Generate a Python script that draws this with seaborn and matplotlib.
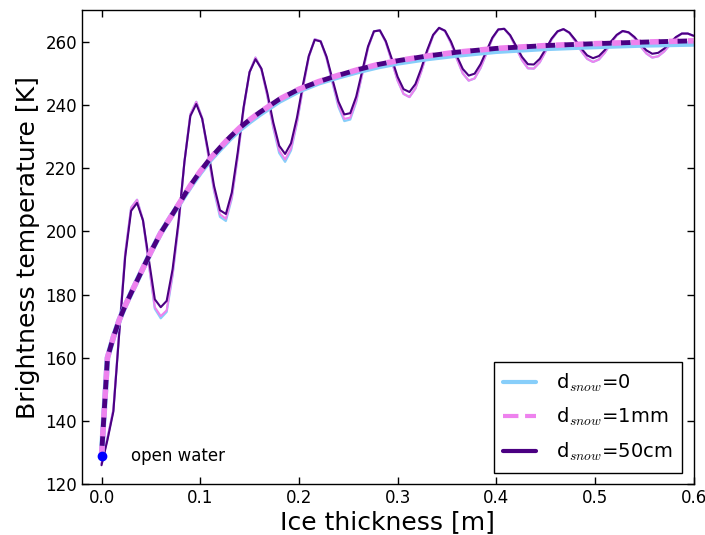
import numpy as np
import matplotlib
matplotlib.use('Agg')
import matplotlib.pyplot as plt
import seaborn as sns
from matplotlib.lines import Line2D

sns.set_style('ticks')
plt.rcParams['font.family'] = ['DejaVu Sans']
plt.rcParams['mathtext.fontset'] = 'cm'
plt.rcParams['text.color'] = 'black'
plt.rcParams['axes.labelcolor'] = 'black'
plt.rcParams['xtick.color'] = 'black'
plt.rcParams['ytick.color'] = 'black'

# ice thickness grid of the coherent model [m]
thick = np.round(np.arange(101) * 0.006, 3)

# brightness temperature, coherent model (oscillating) [K]
osc_50cm = [126, 134, 143, 168, 192, 206.5, 209, 203.5, 191, 178.5,
            176, 178, 188, 203, 222, 236.5, 240.3, 235.6, 225.6, 214.4,
            206.7, 205.5, 212.3, 225, 239.4, 250.4, 254.5, 251.5, 243.8, 234.5,
            227.1, 224.5, 227.9, 236.0, 246.3, 255.5, 260.6, 260.1, 255.3, 248.1,
            241.1, 237.0, 237.4, 242.6, 250.6, 258.5, 263.3, 263.6, 260.2, 254.7,
            248.9, 245.0, 244.1, 246.6, 251.6, 257.4, 262.2, 264.4, 263.5, 260.1,
            255.5, 251.4, 249.3, 249.9, 252.9, 257.1, 261.3, 263.9, 264.1, 262.1,
            258.7, 255.2, 252.9, 252.8, 254.6, 257.7, 261.0, 263.3, 264.0, 262.9,
            260.6, 257.9, 255.7, 254.8, 255.5, 257.4, 260.0, 262.2, 263.4, 263.0,
            261.5, 259.3, 257.3, 256.2, 256.5, 257.8, 259.7, 261.5, 262.6, 262.6,
            261.9]
osc_0 = [126.5, 134.5, 143.5, 168.5, 193, 207.5, 210, 203.5, 189.5, 175.5,
         172.5, 174.5, 186, 202, 222, 237, 241, 235.8, 224.5, 212.8,
         204.6, 203.3, 210.4, 223.7, 238.9, 250.4, 255, 251.3, 242.9, 232.8,
         224.8, 222, 225.6, 234.3, 245.3, 255.2, 260.8, 260.2, 254.8, 247.0,
         239.4, 234.9, 235.4, 240.9, 249.6, 258.1, 263.3, 263.6, 259.9, 253.9,
         247.7, 243.5, 242.5, 245.2, 250.6, 256.8, 262.0, 264.4, 263.4, 259.6,
         254.6, 250.0, 247.7, 248.4, 251.7, 256.3, 261.0, 263.9, 264.1, 261.9,
         258.1, 254.2, 251.6, 251.5, 253.5, 257.0, 260.7, 263.2, 264.0, 262.8,
         260.2, 257.1, 254.6, 253.6, 254.4, 256.6, 259.5, 262.0, 263.4, 262.9,
         261.2, 258.6, 256.3, 255.0, 255.4, 256.9, 259.1, 261.3, 262.6, 262.6,
         261.8]
osc_1mm = [126.5, 134.5, 143.5, 168.5, 193, 207.5, 210, 203.5, 189.5, 176,
           173.2, 175, 186.5, 202, 222, 237, 241, 235.8, 224.5, 213.2,
           205.4, 204, 210.8, 223.7, 238.9, 250.4, 255, 251.3, 242.9, 233.2,
           225.6, 222.8, 226.2, 234.6, 245.3, 255.2, 260.8, 260.2, 254.8, 247.3,
           240.0, 235.6, 236.0, 241.3, 249.6, 258.1, 263.3, 263.6, 259.9, 253.9,
           247.7, 243.5, 242.5, 245.2, 250.6, 256.8, 262.0, 264.4, 263.4, 259.6,
           254.6, 250.0, 247.7, 248.4, 251.7, 256.3, 261.0, 263.9, 264.1, 261.9,
           258.1, 254.2, 251.6, 251.5, 253.5, 257.0, 260.7, 263.2, 264.0, 262.8,
           260.2, 257.1, 254.6, 253.6, 254.4, 256.6, 259.5, 262.0, 263.4, 262.9,
           261.2, 258.6, 256.3, 255.0, 255.4, 256.9, 259.1, 261.3, 262.6, 262.6,
           261.8]

# incoherent model (smooth)
thick_s = [0, 0.006, 0.012, 0.018, 0.024, 0.03, 0.04, 0.05, 0.06, 0.07, 0.08,
           0.09, 0.1, 0.11, 0.12, 0.13, 0.14, 0.15, 0.16, 0.18, 0.2, 0.22,
           0.24, 0.26, 0.28, 0.3, 0.33, 0.36, 0.4, 0.45, 0.5, 0.55, 0.6]
smooth_50cm = [129, 160, 166.5, 172, 176.5, 180.5, 187, 193.5, 199.5, 204.5, 209.5,
               214.5, 219, 223, 226.5, 229.8, 232.8, 235.3, 237.6, 241.8, 245.0, 247.4,
               249.4, 251.2, 252.8, 254.0, 255.5, 256.7, 257.9, 258.8, 259.4, 259.9, 260.3]
smooth_1mm = smooth_50cm
smooth_0 = [129, 160, 166.5, 172, 176.5, 180.5, 187, 193.5, 199.5, 204.5, 209.3,
            214.2, 218.6, 222.6, 226.0, 229.3, 232.2, 234.7, 237.0, 241.2, 244.5, 247.0,
            248.9, 250.6, 252.1, 253.3, 254.7, 255.8, 257.0, 257.9, 258.5, 259.0, 259.3]

labels = [r'd$_{snow}$=0', r'd$_{snow}$=1mm', r'd$_{snow}$=50cm']
colors = ['lightskyblue', 'violet', 'indigo']

fig, ax = plt.subplots(figsize=(7.05, 5.35), dpi=100)
fig.subplots_adjust(left=0.116, right=0.984, top=0.981, bottom=0.095)

# thin oscillating lines
sns.lineplot(x=thick, y=osc_0, color=colors[0], lw=1.6, ax=ax)
sns.lineplot(x=thick, y=osc_1mm, color=colors[1], lw=1.5, ax=ax)
sns.lineplot(x=thick, y=osc_50cm, color=colors[2], lw=1.5, ax=ax)

# thick smooth lines
sns.lineplot(x=thick_s, y=smooth_0, color=colors[0], lw=4, ax=ax)
sns.lineplot(x=thick_s, y=smooth_1mm, color=colors[1], lw=4,
             linestyle=(0, (1.8, 1.6)), ax=ax)
sns.lineplot(x=thick_s, y=smooth_50cm, color=colors[2], lw=3.5,
             linestyle=(1.83, (1.94, 1.94)), ax=ax)

ax.plot([0], [129], 'o', color='blue', ms=6, zorder=5)
ax.text(0.03, 129, 'open water', fontsize=12, va='center')

ax.set_xlim(-0.02, 0.6)
ax.set_ylim(120, 270)
ax.set_xticks(np.arange(0, 0.61, 0.1))
ax.set_yticks(np.arange(120, 261, 20))
ax.tick_params(direction='in', top=True, right=True, length=5, width=1,
               labelsize=12, color='black', labelcolor='black')
for sp in ax.spines.values():
    sp.set_color('black')
    sp.set_linewidth(1)
ax.set_xlabel('Ice thickness [m]', fontsize=18, labelpad=2)
ax.set_ylabel('Brightness temperature [K]', fontsize=18, labelpad=4)

handles = [Line2D([], [], color=colors[0], lw=3),
           Line2D([], [], color=colors[1], lw=3, linestyle='--'),
           Line2D([], [], color=colors[2], lw=3)]
leg = ax.legend(handles, labels, loc='lower right', fontsize=14, fancybox=False,
                framealpha=1, edgecolor='black', borderaxespad=0.6,
                handlelength=1.7, handletextpad=1.0, labelspacing=0.62,
                borderpad=0.5)
leg.get_frame().set_linewidth(1)

fig.savefig('out.png', dpi=100)
